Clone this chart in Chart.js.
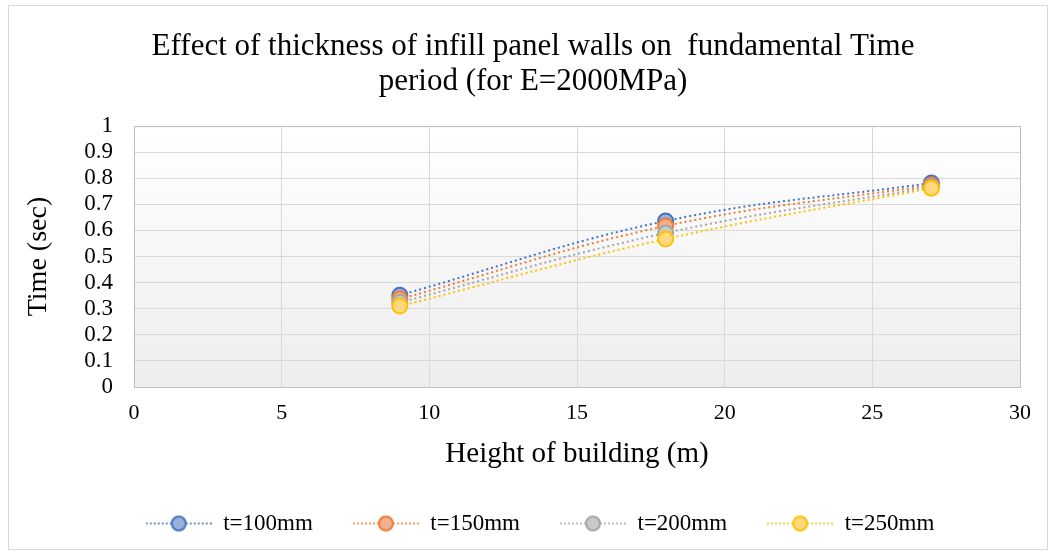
<!DOCTYPE html>
<html>
<head>
<meta charset="utf-8">
<script src="https://cdn.jsdelivr.net/npm/chart.js@4/dist/chart.umd.min.js"></script>
<style>
  html, body { margin: 0; padding: 0; background: #fff; }
  #wrap { width: 1056px; height: 555px; position: relative; }
</style>
</head>
<body>
<div id="wrap"><canvas id="chart" width="1056" height="555"></canvas></div>
<script>
// heights of building (m)
const heights = [9, 18, 27]
// fundamental time period (sec) per wall thickness
const t100 = [0.352, 0.636, 0.782]
const t150 = [0.337, 0.617, 0.774]
const t200 = [0.324, 0.590, 0.767]
const t250 = [0.310, 0.567, 0.762]
const seriesNames = ['t=100mm', 't=150mm', 't=200mm', 't=250mm']
const xTicks = [0, 5, 10, 15, 20, 25, 30]
const yTicks = [0, 0.1, 0.2, 0.3, 0.4, 0.5, 0.6, 0.7, 0.8, 0.9, 1]

const colors = ['#4472C4', '#ED7D31', '#A5A5A5', '#FFC000']
const fills = ['#9BB0DC', '#F4B08F', '#C9C9C9', '#FFD980']
const font = 'Liberation Serif, Times New Roman, serif'

// legend symbol: dotted line with a marker in the middle
function legendSymbol(i) {
  const c = document.createElement('canvas')
  c.width = 66
  c.height = 18
  const g = c.getContext('2d')
  g.strokeStyle = colors[i]
  g.lineWidth = 1.5
  g.setLineDash([2, 2])
  g.beginPath()
  g.moveTo(0, 9)
  g.lineTo(66, 9)
  g.stroke()
  g.setLineDash([])
  g.beginPath()
  g.arc(33, 9, 7, 0, Math.PI * 2)
  g.fillStyle = fills[i]
  g.fill()
  g.lineWidth = 2
  g.stroke()
  return c
}

const allValues = [t100, t150, t200, t250]
const datasets = allValues.map((vals, i) => ({
  label: seriesNames[i],
  data: heights.map((h, k) => ({ x: h, y: vals[k] })),
  order: allValues.length - i, // later series sit on top, like Excel
  borderColor: colors[i],
  backgroundColor: fills[i],
  borderWidth: 2,
  borderDash: [2, 3],
  tension: 0.4,
  pointRadius: 7.5,
  pointHoverRadius: 7.5,
  pointBorderWidth: 2,
  pointBackgroundColor: fills[i],
  pointBorderColor: colors[i],
  pointStyle: 'circle',
  showLine: true
}))

// outer frame + plot area gradient, and nudge title/legend like the original
const frame = {
  id: 'frame',
  afterLayout(chart) {
    chart.titleBlock.left += 12
    chart.titleBlock.right += 12
    chart.legend.left += 19
    chart.legend.right += 19
  },
  beforeDraw(chart) {
    const g = chart.ctx
    const a = chart.chartArea
    g.save()
    g.fillStyle = '#fff'
    g.fillRect(0, 0, chart.width, chart.height)
    g.strokeStyle = '#d9d9d9'
    g.lineWidth = 1
    g.strokeRect(8.5, 5.5, 1039, 544)
    const grad = g.createLinearGradient(0, a.top, 0, a.bottom)
    grad.addColorStop(0, '#ffffff')
    grad.addColorStop(1, '#ededed')
    g.fillStyle = grad
    g.fillRect(a.left, a.top, a.right - a.left, a.bottom - a.top)
    g.restore()
  },
  afterDatasetsDraw(chart) {
    const g = chart.ctx
    const a = chart.chartArea
    g.save()
    g.strokeStyle = '#bfbfbf'
    g.lineWidth = 1
    g.strokeRect(a.left + 0.5, a.top + 0.5, a.right - a.left, a.bottom - a.top)
    g.restore()
  }
}

new Chart(document.getElementById('chart').getContext('2d'), {
  type: 'scatter',
  data: { datasets },
  plugins: [frame],
  options: {
    responsive: false,
    animation: false,
    layout: { padding: { left: 22, right: 36, top: 10, bottom: 10 } },
    plugins: {
      title: {
        display: true,
        text: ['Effect of thickness of infill panel walls on  fundamental Time', 'period (for E=2000MPa)'],
        color: '#000',
        font: { family: font, size: 31, weight: 'normal', lineHeight: 1.13 },
        padding: { top: 19, bottom: 27 }
      },
      legend: {
        position: 'bottom',
        labels: {
          color: '#000',
          font: { family: font, size: 23 },
          usePointStyle: true,
          pointStyleWidth: 66,
          padding: 40,
          generateLabels(chart) {
            return chart.data.datasets.map((d, i) => ({
              text: d.label,
              pointStyle: legendSymbol(i),
              fillStyle: fills[i],
              strokeStyle: colors[i],
              lineWidth: 0,
              hidden: false,
              datasetIndex: i
            }))
          }
        }
      },
      tooltip: { enabled: false }
    },
    scales: {
      x: {
        type: 'linear',
        min: 0,
        max: 30,
        afterBuildTicks(s) { s.ticks = xTicks.map(v => ({ value: v })) },
        afterFit(s) { s.height = 85 },
        grid: { color: '#d9d9d9', drawTicks: false },
        border: { display: false },
        ticks: { color: '#000', font: { family: font, size: 22 }, padding: 13, autoSkip: false, maxRotation: 0 },
        title: {
          display: true,
          text: 'Height of building (m)',
          color: '#000',
          font: { family: font, size: 29 },
          padding: { top: 0, bottom: 0 }
        }
      },
      y: {
        type: 'linear',
        min: 0,
        max: 1,
        afterBuildTicks(s) { s.ticks = yTicks.map(v => ({ value: v })) },
        afterFit(s) { s.width = 112 },
        grid: { color: '#d9d9d9', drawTicks: false },
        border: { display: false },
        ticks: {
          color: '#000',
          font: { family: font, size: 23 },
          padding: 21,
          autoSkip: false,
          callback: v => String(v)
        },
        title: {
          display: true,
          text: 'Time (sec)',
          color: '#000',
          font: { family: font, size: 28 },
          padding: { top: 0, bottom: 4 }
        }
      }
    }
  }
})
</script>
</body>
</html>
